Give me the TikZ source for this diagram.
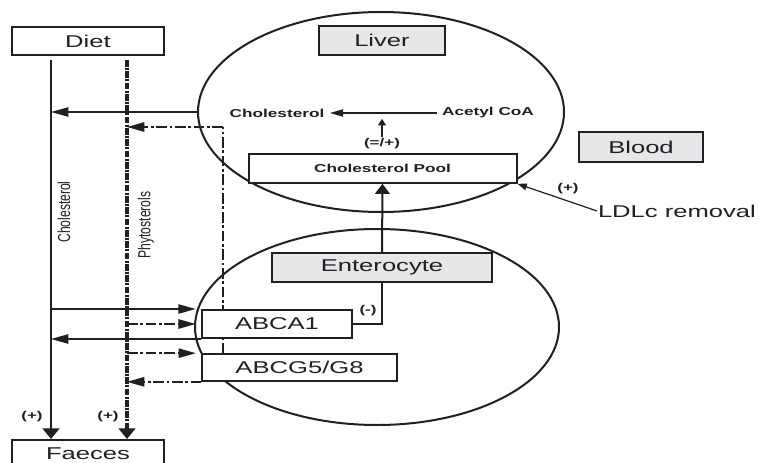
\documentclass[tikz,border=0pt]{standalone}
\usepackage{fontspec}
\setmainfont{Liberation Sans}
\newfontfamily\widesans[FakeStretch=1.5]{Liberation Sans}
\newfontfamily\tallsans[FakeStretch=0.7]{Liberation Sans}
\usetikzlibrary{arrows.meta,shapes.geometric,backgrounds}
\definecolor{boxGray}{HTML}{E6E7E8}
\definecolor{figInk}{HTML}{1F1F24}

\begin{document}
\begin{tikzpicture}[
  x=0.75pt,
  y=-0.75pt,
  organ/.style={
    ellipse,
    draw=figInk,
    line width=1.5pt,
    inner sep=0pt
  },
  namebox/.style={
    draw=figInk,
    fill=white,
    line width=1.5pt,
    inner sep=0pt,
    font=\widesans\fontsize{12.8}{14}\selectfont,
    text=figInk
  },
  organbox/.style={namebox, fill=boxGray},
  poolbox/.style={namebox, font=\widesans\bfseries\fontsize{8.6}{10}\selectfont},
  inlabel/.style={font=\widesans\bfseries\fontsize{8.6}{10}\selectfont, text=figInk, inner sep=1pt},
  sign/.style={font=\widesans\bfseries\fontsize{8.5}{10}\selectfont, text=figInk, inner sep=1pt},
  sidelabel/.style={font=\tallsans\fontsize{13}{15}\selectfont, text=figInk, rotate=90},
  harrow/.style={-{Triangle[length=13pt,width=7pt]}, draw=figInk, line width=1pt},
  varrow/.style={-{Triangle[length=8pt,width=12.5pt]}, draw=figInk, line width=2.2pt},
  dashdot/.style={draw=figInk, line width=1.3pt, dash pattern=on 8pt off 2pt on 2pt off 2pt},
  phyline/.style={draw=figInk, line width=3pt, dash pattern=on 5pt off 1pt on 1.5pt off 1pt},
  link/.style={draw=figInk, line width=0.9pt}
]

\useasboundingbox (0,0) rectangle (759,463);

% organs
\node[organ, minimum width=274.5pt, minimum height=150pt] (liver) at (381,112) {};
\node[organ, minimum width=273pt, minimum height=147pt] (gut) at (377,327) {};

% boxes
\node[namebox, minimum width=114pt, minimum height=21pt] (diet) at (88,41) {Diet};
\node[namebox, minimum width=114pt, minimum height=21pt] (faeces) at (88,454) {Faeces};
\node[organbox, minimum width=94.5pt, minimum height=21.5pt] (liverbox) at (382,40.5) {Liver};
\node[organbox, minimum width=93pt, minimum height=22.5pt] (blood) at (641,147) {Blood};
\node[organbox, minimum width=165pt, minimum height=21.5pt] (entero) at (382,267.5) {Enterocyte};
\node[poolbox, minimum width=201pt, minimum height=21.5pt] (pool) at (382.5,168.5) {Cholesterol Pool};
\node[namebox, minimum width=112.5pt, minimum height=21pt] (abca) at (277,324) {ABCA1};
\node[namebox, minimum width=146pt, minimum height=20pt] (abcg) at (299.5,367.5) {ABCG5/G8};

% liver synthesis
\node[inlabel] (chol) at (277,113) {Cholesterol};
\node[inlabel] (acoa) at (488,113) {Acetyl CoA};
\node[sign] (reg) at (382,144) {(=/+)};

\coordinate (choltop) at (51,60);
\coordinate (phytop) at (127,60);
\coordinate (phybranch) at (223,127);

% dietary routes
\draw[varrow] (choltop) -- (choltop |- faeces.north);
\draw[phyline, -{Triangle[length=8pt,width=12.5pt]}] (phytop) -- (phytop |- faeces.north);
\node[sidelabel] (cholname) at (64,212) {Cholesterol};
\node[sidelabel] (phyname) at (146,225) {Phytosterols};
\node[sign] (cholplus) at (32,417) {(+)};
\node[sign] (phyplus) at (108,417) {(+)};

\draw[harrow] (liver.west) -- (choltop |- liver.west);
\begin{scope}[on background layer]
  \draw[dashdot] (abcg.north -| phybranch) -- (phybranch);
\end{scope}
\draw[dashdot, -{Triangle[length=13pt,width=7pt]}] (phybranch) -- (phytop |- phybranch);

\draw[harrow, shorten >=4pt] (choltop |- abca.north west) -- (abca.north west);
\draw[dashdot, -{Triangle[length=13pt,width=7pt]}, shorten >=4pt] (phytop |- abca.west) -- (abca.west);
\draw[harrow] (abca.south west) -- (choltop |- abca.south west);
\draw[dashdot, -{Triangle[length=13pt,width=7pt]}, shorten >=4pt] (phytop |- abcg.north west) -- (abcg.north west);
\draw[dashdot, -{Triangle[length=13pt,width=7pt]}] (abcg.south west) -- (phytop |- abcg.south west);

% enterocyte links
\draw[-{Triangle[length=7.5pt,width=11pt]}, draw=figInk, line width=1.5pt] (entero.north) -- (pool.south);
\draw[link] (entero.south) |- (abca.east);
\node[sign] (minus) at (368,311) {(-)};

\draw[-{Triangle[length=10pt,width=5.5pt]}, link, shorten >=3pt, shorten <=3pt] (acoa.west) -- (chol.east);
\draw[-{Triangle[length=5pt,width=6pt]}, link] (reg.north) -- (reg.north |- chol.south);

% LDLc removal
\node[namebox, draw=none, fill=none, anchor=west] (ldl) at (597,211) {LDLc removal};
\node[sign] (ldlplus) at (568,189) {(+)};
\draw[-{Triangle[length=7pt,width=5pt]}, link] (ldl.west) -- (pool.south east);
\end{tikzpicture}
\end{document}
